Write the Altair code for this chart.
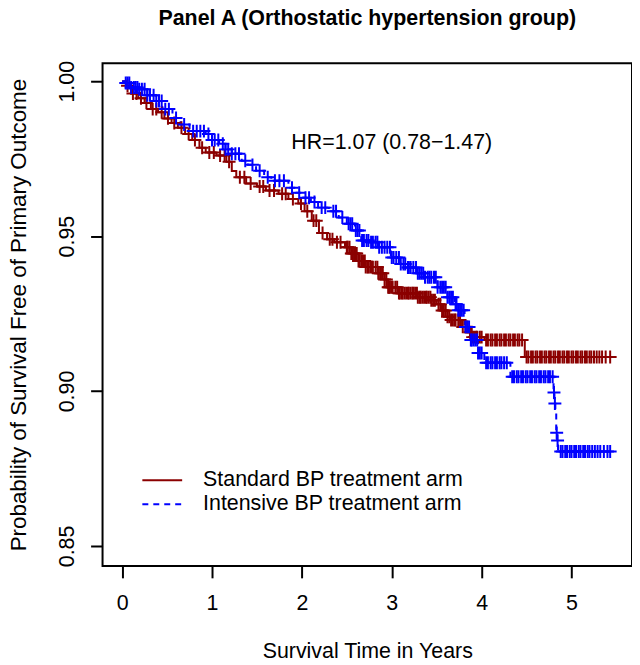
import altair as alt
import pandas as pd
import numpy as np

# ---------------- data ----------------
ARMS = ["Standard BP treatment arm", "Intensive BP treatment arm"]
COLORS = ["#8B0000", "#0000FF"]

# Kaplan-Meier steps (time in years, survival after the step)
STD_TIME = [0.0, 0.05, 0.10, 0.18, 0.25, 0.32, 0.40, 0.47, 0.55, 0.62, 0.70, 0.78,
            0.86, 0.93, 1.05, 1.16, 1.22, 1.27, 1.38, 1.50, 1.60, 1.74, 1.85, 1.96,
            2.03, 2.11, 2.19, 2.28, 2.36, 2.48, 2.55, 2.63, 2.71, 2.85, 2.92, 2.96,
            3.07, 3.29, 3.44, 3.50, 3.55, 3.62, 3.66, 3.77, 3.85, 3.90, 4.03, 4.48]
STD_SURV = [1.0, 0.9985, 0.996, 0.9945, 0.993, 0.991, 0.990, 0.988, 0.9865, 0.985, 0.983, 0.981,
            0.9785, 0.977, 0.976, 0.974, 0.971, 0.969, 0.967, 0.966, 0.9647, 0.9637, 0.962, 0.9605,
            0.958, 0.955, 0.951, 0.949, 0.948, 0.9464, 0.9444, 0.942, 0.940, 0.938, 0.936, 0.9335,
            0.9316, 0.9303, 0.9293, 0.928, 0.926, 0.924, 0.9229, 0.9207, 0.919, 0.9174, 0.9165, 0.911]
STD_END = 5.43

INT_TIME = [0.0, 0.03, 0.10, 0.19, 0.28, 0.38, 0.45, 0.56, 0.65, 0.75, 0.93, 1.00,
            1.08, 1.15, 1.22, 1.33, 1.40, 1.49, 1.58, 1.66, 1.85, 1.93, 2.00, 2.10,
            2.18, 2.30, 2.41, 2.50, 2.59, 2.66, 2.75, 2.85, 2.99, 3.10, 3.18, 3.28,
            3.37, 3.51, 3.62, 3.70, 3.74, 3.81, 3.88, 3.96, 4.03, 4.32, 4.80, 4.81,
            4.82, 4.83, 4.84, 4.85]
INT_SURV = [1.0, 0.9994, 0.998, 0.9974, 0.9955, 0.9936, 0.991, 0.9881, 0.986, 0.9839, 0.983, 0.981,
            0.9798, 0.978, 0.9766, 0.9743, 0.973, 0.9711, 0.969, 0.9679, 0.9656, 0.964, 0.9624, 0.961,
            0.9592, 0.958, 0.956, 0.954, 0.9518, 0.9486, 0.948, 0.9464, 0.9431, 0.941, 0.9399, 0.938,
            0.9367, 0.9335, 0.9303, 0.928, 0.9261, 0.9207, 0.9165, 0.9123, 0.9091, 0.9046, 0.8995, 0.896,
            0.8935, 0.8865, 0.884, 0.8805]
INT_END = 5.43

# censoring times ("+" marks)
STD_CENS = [0.06, 0.12, 0.16, 0.21, 0.27, 0.34, 0.38, 0.44, 0.51, 0.58, 0.66, 0.74, 0.81, 0.89,
            0.97, 1.02, 1.09, 1.14, 1.19, 1.31, 1.36, 1.43, 1.53, 1.57, 1.64, 1.69, 1.78, 1.82,
            1.90, 1.99, 2.06, 2.13, 2.16, 2.23, 2.31, 2.34, 2.39, 2.43, 2.50, 2.51, 2.53, 2.55,
            2.56, 2.58, 2.60, 2.61, 2.63, 2.64, 2.66, 2.68, 2.70, 2.71, 2.73, 2.74, 2.76, 2.78,
            2.79, 2.82, 2.84, 2.85, 2.87, 2.88, 2.90, 2.92, 2.94, 2.96, 2.97, 2.98, 3.00, 3.01,
            3.04, 3.06, 3.08, 3.09, 3.11, 3.12, 3.14, 3.16, 3.18, 3.19, 3.21, 3.23, 3.24, 3.26,
            3.28, 3.29, 3.31, 3.32, 3.34, 3.36, 3.38, 3.39, 3.41, 3.43, 3.44, 3.46, 3.48, 3.52,
            3.54, 3.56, 3.58, 3.60, 3.62, 3.64, 3.66, 3.68, 3.70, 3.71, 3.74, 3.76, 3.79, 3.82,
            3.84, 3.87, 3.89, 3.90, 3.92, 3.94, 3.95, 3.98, 4.00, 4.05,
            4.07, 4.10, 4.12, 4.15, 4.17, 4.20, 4.22, 4.25, 4.27, 4.30, 4.32, 4.35, 4.37, 4.40,
            4.42, 4.45, 4.50, 4.52, 4.55, 4.57, 4.60, 4.62, 4.65, 4.67, 4.70, 4.72, 4.75, 4.77,
            4.80, 4.82, 4.85, 4.87, 4.90, 4.92, 4.95, 4.97, 5.00, 5.02, 5.05, 5.07, 5.10, 5.12,
            5.15, 5.17, 5.20, 5.22, 5.25, 5.28, 5.31, 5.34, 5.38, 5.43]
INT_CENS = [0.04, 0.06, 0.08, 0.10, 0.13, 0.15, 0.17, 0.19, 0.22, 0.25, 0.28, 0.31, 0.35, 0.38,
            0.41, 0.44, 0.48, 0.52, 0.60, 0.69, 0.79, 0.83, 0.87, 0.91, 0.96, 1.00, 1.03, 1.07,
            1.12, 1.15, 1.18, 1.22, 1.26, 1.30, 1.37, 1.45, 1.53, 1.62, 1.70,
            1.75, 1.80, 1.89, 1.97, 2.04, 2.08, 2.14, 2.22, 2.26, 2.35, 2.38, 2.45, 2.52, 2.54,
            2.56, 2.60, 2.62, 2.64, 2.67, 2.69, 2.72, 2.74, 2.77, 2.79, 2.82, 2.84, 2.86, 2.89,
            2.92, 2.95, 2.98, 3.00, 3.02, 3.05, 3.08, 3.10, 3.13, 3.15, 3.18, 3.19, 3.21, 3.24,
            3.27, 3.29, 3.31, 3.33, 3.35, 3.37, 3.40, 3.42, 3.44, 3.47, 3.49, 3.51, 3.54, 3.56,
            3.58, 3.60, 3.62, 3.64, 3.66, 3.68, 3.71, 3.72, 3.74, 3.76, 3.78, 3.80, 3.82, 3.84,
            3.86, 3.88, 3.89, 3.91, 3.93, 3.95, 3.96, 3.98, 4.00, 4.05, 4.07, 4.10, 4.12, 4.15,
            4.17, 4.20, 4.22, 4.25, 4.28, 4.34, 4.36, 4.39, 4.41, 4.44, 4.46, 4.49, 4.51, 4.54,
            4.56, 4.59, 4.61, 4.64, 4.66, 4.69, 4.71, 4.74, 4.76, 4.79, 4.805, 4.815, 4.835,
            4.845, 4.88, 4.90, 4.93, 4.95, 4.98, 5.00, 5.03, 5.05, 5.08, 5.10, 5.13, 5.15, 5.18,
            5.20, 5.23, 5.26, 5.29, 5.32, 5.36, 5.40, 5.43]

X_TICKS = [0, 1, 2, 3, 4, 5]
Y_TICKS = [0.85, 0.90, 0.95, 1.00]
HR_LABEL = ["HR=1.07 (0.78\u22121.47)"]
HR_X = [3.0]
HR_Y = [0.98]

TITLE = "Panel A (Orthostatic hypertension group)"
X_TITLE = "Survival Time in Years"
Y_TITLE = "Probability of Survival Free of Primary Outcome"

# ---------------- tables ----------------
def step_table(arm, times, surv, end):
    t = list(times) + [end]
    s = list(surv) + [surv[-1]]
    return pd.DataFrame({"arm": arm, "time": t, "surv": s})

def cens_table(arm, color, times, surv, cens):
    idx = np.searchsorted(np.array(times), np.array(cens), side="right") - 1
    return pd.DataFrame({"arm": arm, "hex": color, "time": cens,
                         "surv": np.array(surv)[idx]})

line_df = pd.concat([step_table(ARMS[0], STD_TIME, STD_SURV, STD_END),
                     step_table(ARMS[1], INT_TIME, INT_SURV, INT_END)], ignore_index=True)
cens_df = pd.concat([cens_table(ARMS[0], COLORS[0], STD_TIME, STD_SURV, STD_CENS),
                     cens_table(ARMS[1], COLORS[1], INT_TIME, INT_SURV, INT_CENS)], ignore_index=True)
hr_df = pd.DataFrame({"time": HR_X, "surv": HR_Y, "label": HR_LABEL})

FONT = "Liberation Sans"
FS = 21.5

x_scale = alt.Scale(domain=[-0.218, 5.673], nice=False, zero=False)
y_scale = alt.Scale(domain=[0.84356, 1.00578], nice=False, zero=False)

x_axis = alt.Axis(values=X_TICKS, title=X_TITLE, format="d", grid=False, domain=False,
                  tickSize=12, tickWidth=2, tickColor="black",
                  labelFont=FONT, labelFontSize=FS, labelColor="black",
                  labelBaseline="alphabetic", labelPadding=32, labelFlush=False,
                  labelOverlap=False,
                  titleFont=FONT, titleFontSize=FS, titleFontWeight="normal",
                  titleColor="black", titleBaseline="alphabetic", titleY=92)
y_axis = alt.Axis(values=Y_TICKS, title=Y_TITLE, format=".2f", grid=False, domain=False,
                  tickSize=12, tickWidth=2, tickColor="black",
                  labelFont=FONT, labelFontSize=FS, labelColor="black",
                  labelAngle=270, labelAlign="center", labelBaseline="alphabetic",
                  labelPadding=17, labelFlush=False, labelOverlap=False,
                  titleFont=FONT, titleFontSize=22.5, titleFontWeight="normal",
                  titleColor="black", titleBaseline="alphabetic", titleAngle=270,
                  titleX=-77)

legend = alt.Legend(title=None, orient="none", legendX=49, legendY=408,
                    symbolType="M-2,0H2", symbolSize=400, symbolStrokeWidth=2,
                    labelFont=FONT, labelFontSize=FS, labelColor="black",
                    labelOffset=30, labelLimit=0, rowPadding=2, padding=0)

lines = alt.Chart(line_df).mark_line(interpolate="step-after", strokeWidth=2).encode(
    x=alt.X("time:Q", scale=x_scale, axis=x_axis),
    y=alt.Y("surv:Q", scale=y_scale, axis=y_axis),
    color=alt.Color("arm:N", scale=alt.Scale(domain=ARMS, range=COLORS), legend=legend),
    strokeDash=alt.StrokeDash("arm:N", scale=alt.Scale(domain=ARMS, range=[[1, 0], [6, 5]]),
                              legend=legend),
)

marks = alt.Chart(cens_df).mark_point(shape="M-1,0H1M0,-1V1", size=169, strokeWidth=2,
                                      filled=False, opacity=1).encode(
    x=alt.X("time:Q"),
    y=alt.Y("surv:Q"),
    stroke=alt.Stroke("hex:N", scale=None),
)

hr = alt.Chart(hr_df).mark_text(font=FONT, fontSize=FS, color="black",
                                align="center", baseline="middle").encode(
    x=alt.X("time:Q"), y=alt.Y("surv:Q"), text="label:N")

chart = alt.layer(lines, marks, hr).properties(
    width=532, height=505,
    title=alt.TitleParams(TITLE, font=FONT, fontSize=FS, fontWeight="bold", color="black",
                          anchor="middle", baseline="alphabetic", offset=14),
    padding={"left": 95, "top": 54, "right": 0, "bottom": 97},
    autosize=alt.AutoSizeParams(type="none"),
    background="white",
).configure_view(stroke="black", strokeWidth=2)

chart.save("out.html", embed_options={"renderer": "svg", "actions": False})
